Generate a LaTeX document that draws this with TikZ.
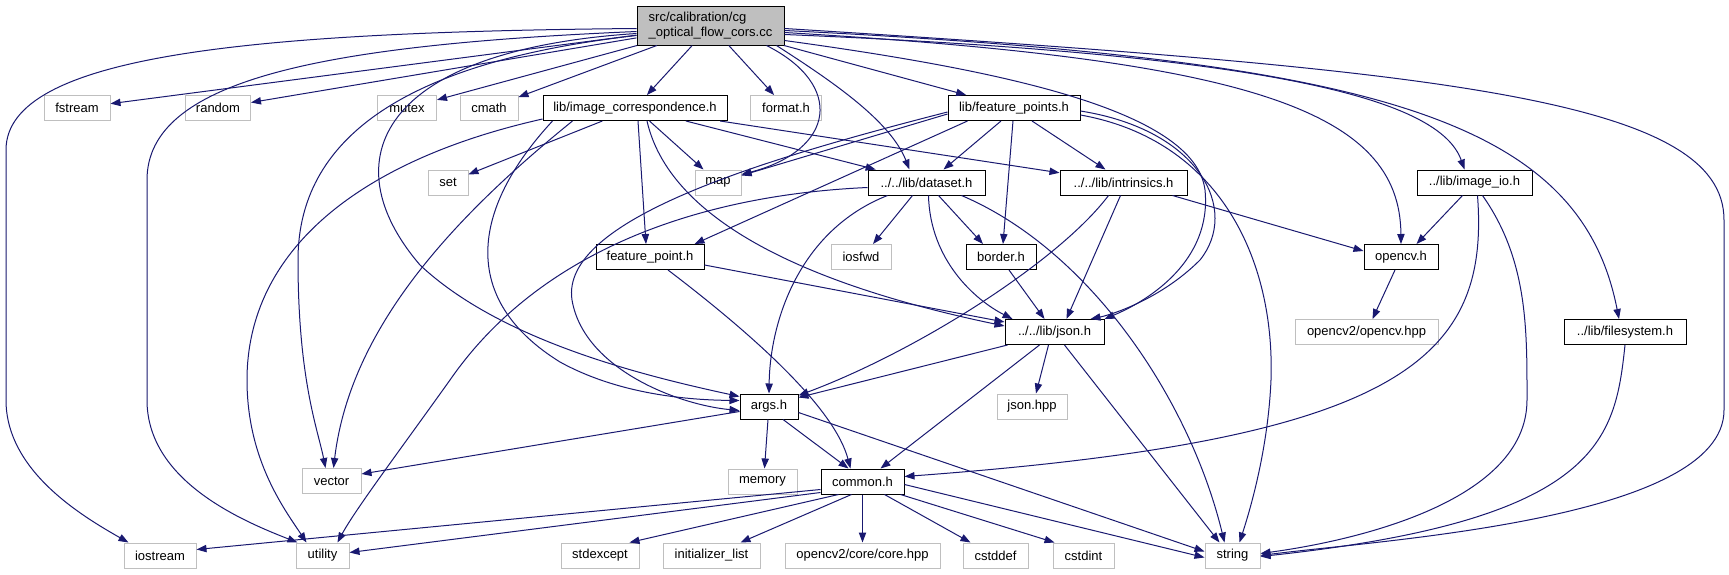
\documentclass[tikz,border=0pt]{standalone}
\usepackage{fontspec}
\setmainfont{Liberation Sans}
\usetikzlibrary{arrows.meta,calc}
\definecolor{edgec}{HTML}{191970}
\definecolor{grayb}{HTML}{BFBFBF}
\tikzset{
 nbox/.style={rectangle, inner sep=0pt, minimum height=18.75pt, font=\fontsize{9.75}{11.25}\selectfont, line width=0.75pt},
 hdr/.style={nbox, draw=black},
 sys/.style={nbox, draw=grayb},
 bw/.style={minimum width=#1*0.75pt},
 dep/.style={draw=edgec, line width=0.75pt, -{Triangle[length=7.5pt,width=5.5pt]}},
}
\begin{document}
\begin{tikzpicture}[x=0.75pt,y=-0.75pt]
\fill[white] (0,0) rectangle (1729,575);
\useasboundingbox (0,0) rectangle (1729,575);
% nodes
\node[hdr, fill=grayb, bw=147, minimum height=29.25pt, align=left] (main) at (710.5,25.5) {src/calibration/cg\\\_optical\_flow\_cors.cc};
\node[sys, bw=66] (fstream) at (77,108) {fstream};
\node[sys, bw=65] (random) at (218,108) {random};
\node[sys, bw=59] (mutex) at (407,108) {mutex};
\node[sys, bw=58] (cmath) at (489,108) {cmath};
\node[hdr, bw=184] (imgcorr) at (635,108) {lib/image\_correspondence.h};
\node[sys, bw=71] (format) at (786,108) {format.h};
\node[hdr, bw=132] (featpts) at (1014,108) {lib/feature\_points.h};
\node[sys, bw=40] (set) at (448,182.5) {set};
\node[sys, bw=46] (map) at (718,182.5) {map};
\node[hdr, bw=117] (dataset) at (926.5,182.5) {../../lib/dataset.h};
\node[hdr, bw=127] (intrin) at (1123.5,182.5) {../../lib/intrinsics.h};
\node[hdr, bw=115] (imageio) at (1474.5,182.5) {../lib/image\_io.h};
\node[hdr, bw=108] (featpt) at (650,257) {feature\_point.h};
\node[sys, bw=60] (iosfwd) at (861,257) {iosfwd};
\node[hdr, bw=70] (border) at (1001,257) {border.h};
\node[hdr, bw=74] (opencv) at (1401,257) {opencv.h};
\node[hdr, bw=99] (json) at (1054.5,332) {../../lib/json.h};
\node[sys, bw=143] (cvhpp) at (1366.5,332) {opencv2/opencv.hpp};
\node[hdr, bw=122] (filesys) at (1625,332) {../lib/filesystem.h};
\node[hdr, bw=58] (args) at (769,406.5) {args.h};
\node[sys, bw=70] (jsonhpp) at (1032,406.5) {json.hpp};
\node[sys, bw=59] (vector) at (331.5,481) {vector};
\node[sys, bw=69] (memory) at (762.5,481.5) {memory};
\node[hdr, bw=83] (common) at (862.5,481.5) {common.h};
\node[sys, bw=72] (iostream) at (160,555.5) {iostream};
\node[sys, bw=53] (utility) at (322.5,555.5) {utility};
\node[sys, bw=78] (stdexcept) at (600,555.5) {stdexcept};
\node[sys, bw=97] (initlist) at (711.5,555.5) {initializer\_list};
\node[sys, bw=155] (corehpp) at (862.5,555.5) {opencv2/core/core.hpp};
\node[sys, bw=65] (cstddef) at (995.5,555.5) {cstddef};
\node[sys, bw=61] (cstdint) at (1083.5,555.5) {cstdint};
\node[sys, bw=55] (string) at (1232.5,555.5) {string};
% main edges
\draw[dep] (main) -- (fstream);
\draw[dep] (main) -- (random);
\draw[dep] (main) -- (mutex);
\draw[dep] (main) -- (cmath);
\draw[dep] (main) -- (imgcorr);
\draw[dep] (main) -- (format);
\draw[dep] (main) -- (featpts);
\draw[dep] ($(main.south)+(56,0)$) .. controls (845,85) and (835,150) .. ($(map.east)+(0,-8)$);
\draw[dep] ($(main.south)+(66,0)$) .. controls (830,80) and (890,120) .. ($(dataset.north)+(-17,0)$);
\draw[dep] ($(main.west)+(0,3)$) .. controls (250,32) and (6,55) .. (6,150) -- (6,400) .. controls (6,470) and (80,515) .. ($(iostream.north west)+(5,0)$);
\draw[dep] ($(main.west)+(0,6)$) .. controls (320,45) and (147,80) .. (147,180) -- (147,400) .. controls (147,480) and (240,520) .. ($(utility.north west)+(2,0)$);
\draw[dep] ($(main.west)+(0,10)$) .. controls (420,60) and (298,130) .. (298,260) .. controls (298,380) and (318,430) .. ($(vector.north)+(-6,0)$);
\draw[dep] ($(main.west)+(0,8)$) .. controls (380,50) and (330,160) .. (420,265) .. controls (500,340) and (640,375) .. ($(args.north west)+(0,3)$);
\draw[dep] ($(main.east)+(0,15)$) .. controls (1000,70) and (1195,110) .. (1205,190) .. controls (1212,260) and (1150,300) .. (json.north east);
\draw[dep] ($(main.east)+(0,7)$) .. controls (1250,60) and (1400,110) .. (opencv.north);
\draw[dep] ($(main.east)+(0,9)$) .. controls (1280,55) and (1440,100) .. ($(imageio.north)+(-10,0)$);
\draw[dep] ($(main.east)+(0,5)$) .. controls (1380,60) and (1580,120) .. ($(filesys.north)+(-6,0)$);
\draw[dep] ($(main.east)+(0,3)$) .. controls (1450,70) and (1724,100) .. (1724,220) -- (1724,410) .. controls (1724,520) and (1380,540) .. (string.east);
% image_correspondence edges
\draw[dep] (imgcorr) -- (set);
\draw[dep] (imgcorr) -- (map);
\draw[dep] (imgcorr) -- (dataset);
\draw[dep] (imgcorr) -- (intrin);
\draw[dep] ($(imgcorr.south)+(3,0)$) -- ($(featpt.north)+(-4,0)$);
\draw[dep] ($(imgcorr.south)+(12,0)$) .. controls (665,200) and (760,275) .. ($(json.west)+(0,-6)$);
\draw[dep] ($(imgcorr.south west)+(10,0)$) .. controls (470,210) and (460,300) .. (560,362) .. controls (620,395) and (690,400) .. ($(args.west)+(0,-6)$);
\draw[dep] ($(imgcorr.south west)+(30,0)$) .. controls (450,220) and (350,330) .. ($(vector.north)+(2,0)$);
\draw[dep] ($(imgcorr.south west)+(0,-2)$) .. controls (360,160) and (247,250) .. (247,380) .. controls (247,460) and (285,510) .. ($(utility.north)+(-16,0)$);
% feature_points edges
\draw[dep] ($(featpts.west)+(0,6)$) -- ($(map.east)+(0,-7)$);
\draw[dep] ($(featpts.south west)+(20,0)$) -- ($(featpt.north east)+(-10,0)$);
\draw[dep] ($(featpts.south)+(-13,0)$) -- ($(dataset.north)+(17,0)$);
\draw[dep] ($(featpts.south)+(-1,0)$) -- ($(border.north)+(2,0)$);
\draw[dep] ($(featpts.south)+(18,0)$) -- ($(intrin.north)+(-18,0)$);
\draw[dep] ($(featpts.west)+(0,4)$) .. controls (760,160) and (560,220) .. (572,300) .. controls (584,370) and (680,405) .. ($(args.west)+(0,4)$);
\draw[dep] ($(featpts.east)+(0,3)$) .. controls (1200,130) and (1240,210) .. (1200,260) .. controls (1160,300) and (1110,315) .. ($(json.north east)+(-14,0)$);
\draw[dep] ($(featpts.east)+(0,7)$) .. controls (1220,140) and (1275,260) .. (1271,380) .. controls (1268,450) and (1250,510) .. ($(string.north)+(7,0)$);
% dataset edges
\draw[dep] ($(dataset.south)+(-14,0)$) -- ($(iosfwd.north)+(12,0)$);
\draw[dep] ($(dataset.south)+(12,0)$) -- ($(border.north)+(-18,0)$);
\draw[dep] ($(dataset.south)+(2,0)$) .. controls (930,260) and (975,300) .. ($(json.north west)+(8,0)$);
\draw[dep] ($(dataset.south)+(35,0)$) .. controls (1090,250) and (1190,400) .. ($(string.north)+(-8,0)$);
\draw[dep] ($(dataset.south west)+(20,0)$) .. controls (800,230) and (770,320) .. (args.north);
\draw[dep] ($(dataset.west)+(0,5)$) .. controls (700,195) and (540,250) .. (450,380) .. controls (400,450) and (355,510) .. ($(utility.north east)+(-12,0)$);
% intrinsics edges
\draw[dep] ($(intrin.south east)+(-15,0)$) -- ($(opencv.west)+(0,-6)$);
\draw[dep] ($(intrin.south)+(-3,0)$) -- ($(json.north)+(12,0)$);
\draw[dep] ($(intrin.south)+(-15,0)$) .. controls (1060,260) and (920,350) .. ($(args.north east)+(0,2)$);
% image_io edges
\draw[dep] ($(imageio.south)+(-12,0)$) -- ($(opencv.north east)+(-22,0)$);
\draw[dep] ($(imageio.south)+(3,0)$) .. controls (1490,360) and (1400,440) .. ($(common.east)+(0,-5)$);
\draw[dep] ($(imageio.south)+(8,0)$) .. controls (1528,260) and (1527,330) .. (1527,400) .. controls (1527,500) and (1360,540) .. ($(string.east)+(0,-2)$);
% filesystem
\draw[dep] (filesys.south) .. controls (1615,440) and (1600,520) .. ($(string.east)+(0,1)$);
% border, feature_point, opencv
\draw[dep] ($(border.south)+(8,0)$) -- ($(json.north)+(-10,0)$);
\draw[dep] ($(featpt.east)+(0,8)$) -- ($(json.west)+(0,-10)$);
\draw[dep] ($(featpt.south)+(18,0)$) .. controls (760,340) and (835,410) .. ($(common.north)+(-12,0)$);
\draw[dep] ($(opencv.south)+(-6,0)$) -- ($(cvhpp.north)+(6,0)$);
% json edges
\draw[dep] ($(json.south west)+(3,0)$) -- ($(args.north east)+(0,4)$);
\draw[dep] ($(json.south)+(-15,0)$) -- ($(common.north east)+(-24,0)$);
\draw[dep] ($(json.south)+(-6,0)$) -- ($(jsonhpp.north)+(4,0)$);
\draw[dep] ($(json.south)+(10,0)$) -- ($(string.north)+(-13,0)$);
% args edges
\draw[dep] ($(args.west)+(0,5)$) -- ($(vector.east)+(0,-7)$);
\draw[dep] ($(args.south)+(-1,0)$) -- ($(memory.north)+(2,0)$);
\draw[dep] ($(args.south)+(14,0)$) -- ($(common.north)+(-14,0)$);
\draw[dep] ($(args.east)+(0,6)$) -- ($(string.west)+(0,-4)$);
% common edges
\draw[dep] ($(common.west)+(0,8)$) -- ($(iostream.east)+(0,-6)$);
\draw[dep] ($(common.west)+(0,11)$) -- ($(utility.east)+(0,-3)$);
\draw[dep] ($(common.south west)+(18,0)$) -- ($(stdexcept.north east)+(-10,0)$);
\draw[dep] ($(common.south west)+(31,0)$) -- ($(initlist.north east)+(-20,0)$);
\draw[dep] (common.south) -- (corehpp.north);
\draw[dep] ($(common.south east)+(-20,0)$) -- ($(cstddef.north west)+(8,0)$);
\draw[dep] ($(common.south east)+(-4,0)$) -- ($(cstdint.north west)+(2,0)$);
\draw[dep] ($(common.east)+(0,3)$) -- ($(string.west)+(0,2)$);
\end{tikzpicture}
\end{document}
